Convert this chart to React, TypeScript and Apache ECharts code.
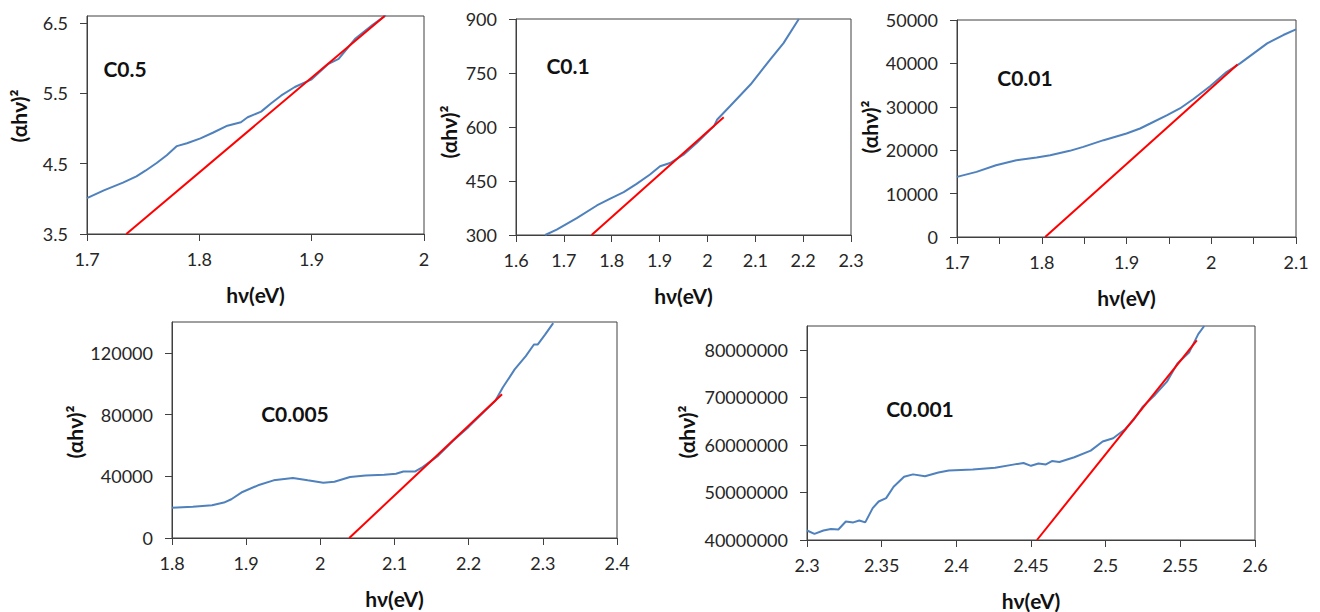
import React, { useEffect, useRef } from "react";
import * as echarts from "echarts";

// ---------- Data ----------
// Panel C0.5
const c05X = [1.7, 1.715, 1.732, 1.744, 1.752, 1.762, 1.771, 1.78, 1.789, 1.801, 1.812, 1.825, 1.837, 1.843, 1.855, 1.864, 1.873, 1.885, 1.9, 1.915, 1.924, 1.939, 1.954, 1.966];
const c05Y = [4.01, 4.12, 4.23, 4.32, 4.4, 4.51, 4.62, 4.75, 4.79, 4.86, 4.94, 5.04, 5.09, 5.16, 5.24, 5.36, 5.47, 5.59, 5.7, 5.92, 5.99, 6.28, 6.47, 6.61];
const c05FitX = [1.735, 1.965];
const c05FitY = [3.5, 6.6];

// Panel C0.1
const c01X = [1.661, 1.685, 1.727, 1.769, 1.797, 1.825, 1.852, 1.88, 1.901, 1.922, 1.95, 1.978, 2.006, 2.014, 2.02, 2.048, 2.09, 2.131, 2.159, 2.191];
const c01Y = [300, 315, 347, 382, 401, 419, 442, 468, 491, 500, 523, 556, 593, 603, 620, 659, 718, 787, 833, 900];
const c01FitX = [1.758, 2.034];
const c01FitY = [300, 627];

// Panel C0.01
const c001X = [1.7, 1.723, 1.746, 1.77, 1.794, 1.81, 1.833, 1.849, 1.873, 1.9, 1.916, 1.928, 1.948, 1.963, 1.979, 1.999, 2.018, 2.034, 2.05, 2.066, 2.085, 2.1];
const c001Y = [13850, 15000, 16540, 17690, 18310, 18850, 19850, 20770, 22310, 23850, 25000, 26150, 28080, 29620, 31800, 34800, 38000, 40000, 42310, 44620, 46540, 47850];
const c001FitX = [1.804, 2.031];
const c001FitY = [0, 39770];

// Panel C0.005
const c0005X = [1.8, 1.828, 1.854, 1.87, 1.88, 1.895, 1.916, 1.937, 1.963, 1.983, 2.004, 2.019, 2.04, 2.061, 2.086, 2.102, 2.112, 2.128, 2.138, 2.159, 2.179, 2.2, 2.221, 2.236, 2.246, 2.262, 2.277, 2.288, 2.293, 2.303, 2.314];
const c0005Y = [19540, 20180, 21250, 22970, 25120, 29840, 34140, 37360, 38860, 37360, 35850, 36500, 39500, 40580, 41000, 41650, 43150, 43150, 45950, 53400, 63000, 72000, 82000, 88900, 97500, 109300, 117900, 125400, 125400, 131800, 139300];
const c0005FitX = [2.039, 2.245];
const c0005FitY = [0, 93180];

// Panel C0.001
const c0001X = [2.3, 2.305, 2.311, 2.316, 2.321, 2.326, 2.331, 2.335, 2.339, 2.344, 2.348, 2.353, 2.358, 2.365, 2.371, 2.379, 2.388, 2.395, 2.411, 2.426, 2.439, 2.445, 2.45, 2.455, 2.46, 2.464, 2.469, 2.479, 2.49, 2.498, 2.505, 2.513, 2.519, 2.525, 2.533, 2.541, 2.548, 2.556, 2.562, 2.566];
const c0001Y = [42000000, 41300000, 42000000, 42300000, 42200000, 43900000, 43700000, 44100000, 43700000, 46700000, 48100000, 48800000, 51200000, 53300000, 53800000, 53400000, 54200000, 54600000, 54800000, 55200000, 55900000, 56200000, 55600000, 56100000, 55900000, 56600000, 56400000, 57400000, 58800000, 60700000, 61400000, 63300000, 65400000, 68100000, 70500000, 73300000, 77100000, 79500000, 83300000, 85000000];
const c0001FitX = [2.454, 2.561];
const c0001FitY = [40000000, 82000000];

// Tick labels
const xTicks1 = [1.7, 1.8, 1.9, 2];
const xTicks2 = [1.6, 1.7, 1.8, 1.9, 2, 2.1, 2.2, 2.3];
const xLabels3 = [1.7, 1.8, 1.9, 2, 2.1];
const xTicks3 = [1.7, 1.75, 1.8, 1.85, 1.9, 1.95, 2, 2.05, 2.1];
const xTicks4 = [1.8, 1.9, 2, 2.1, 2.2, 2.3, 2.4];
const xTicks5 = [2.3, 2.35, 2.4, 2.45, 2.5, 2.55, 2.6];
const yTicks1 = [3.5, 4.5, 5.5, 6.5];
const yTicks2 = [300, 450, 600, 750, 900];
const yTicks3 = [0, 10000, 20000, 30000, 40000, 50000];
const yTicks4 = [0, 40000, 80000, 120000];
const yTicks5 = [40000000, 50000000, 60000000, 70000000, 80000000];

const panelNames = ["C0.5", "C0.1", "C0.01", "C0.005", "C0.001"];
const xTitle = "hν(eV)";
const yTitle = "(αhν)²";

const zip = (xs: number[], ys: number[]) => xs.map((x, i) => [x, ys[i]]);

const FONT = 'Lato, "Open Sans", "Noto Sans", sans-serif';
const AXIS_COLOR = "#404040";
const LABEL_COLOR = "#262626";
const BLUE = "#4F81BD";
const RED = "#FF0000";

type PanelSpec = {
  grid: { left: number; top: number; width: number; height: number };
  xMin: number; xMax: number; xTicks: number[]; xLabels: number[];
  yMin: number; yMax: number; yTicks: number[]; yFmt: (v: number) => string;
  curveX: number[]; curveY: number[]; fitX: number[]; fitY: number[];
  label: { x: number; y: number };
  yTitlePos: { x: number; y: number };
};

const panels: PanelSpec[] = [
  {
    grid: { left: 87, top: 16, width: 337, height: 218 },
    xMin: 1.7, xMax: 2, xTicks: xTicks1, xLabels: xTicks1,
    yMin: 3.5, yMax: 6.6, yTicks: yTicks1, yFmt: (v) => v.toFixed(1),
    curveX: c05X, curveY: c05Y, fitX: c05FitX, fitY: c05FitY,
    label: { x: 125, y: 68 }, yTitlePos: { x: 18, y: 116 },
  },
  {
    grid: { left: 516, top: 19, width: 335, height: 216 },
    xMin: 1.6, xMax: 2.3, xTicks: xTicks2, xLabels: xTicks2,
    yMin: 300, yMax: 900, yTicks: yTicks2, yFmt: (v) => String(v),
    curveX: c01X, curveY: c01Y, fitX: c01FitX, fitY: c01FitY,
    label: { x: 568, y: 65 }, yTitlePos: { x: 448, y: 132 },
  },
  {
    grid: { left: 957, top: 20, width: 339, height: 217 },
    xMin: 1.7, xMax: 2.1, xTicks: xTicks3, xLabels: xLabels3,
    yMin: 0, yMax: 50000, yTicks: yTicks3, yFmt: (v) => String(v),
    curveX: c001X, curveY: c001Y, fitX: c001FitX, fitY: c001FitY,
    label: { x: 1025, y: 77 }, yTitlePos: { x: 869, y: 127 },
  },
  {
    grid: { left: 172, top: 322, width: 445, height: 216 },
    xMin: 1.8, xMax: 2.4, xTicks: xTicks4, xLabels: xTicks4,
    yMin: 0, yMax: 140000, yTicks: yTicks4, yFmt: (v) => String(v),
    curveX: c0005X, curveY: c0005Y, fitX: c0005FitX, fitY: c0005FitY,
    label: { x: 295, y: 413 }, yTitlePos: { x: 74, y: 432 },
  },
  {
    grid: { left: 807, top: 326, width: 448, height: 216 },
    xMin: 2.3, xMax: 2.6, xTicks: xTicks5, xLabels: xTicks5,
    yMin: 40000000, yMax: 85000000, yTicks: yTicks5, yFmt: (v) => String(v),
    curveX: c0001X, curveY: c0001Y, fitX: c0001FitX, fitY: c0001FitY,
    label: { x: 920, y: 408 }, yTitlePos: { x: 686, y: 432 },
  },
];

function buildOption() {
  const grid = panels.map((p) => ({
    ...p.grid,
    show: true,
    borderColor: AXIS_COLOR,
    borderWidth: 1,
    backgroundColor: "transparent",
    containLabel: false,
  }));

  const xAxis = panels.map((p, i) => ({
    type: "value",
    gridIndex: i,
    min: p.xMin,
    max: p.xMax,
    name: xTitle,
    nameLocation: "middle",
    nameGap: 50,
    nameTextStyle: { fontFamily: FONT, fontWeight: "bold", fontSize: 21, color: "#111" },
    axisLine: { show: true, onZero: false, lineStyle: { color: AXIS_COLOR, width: 1 } },
    axisTick: { show: true, inside: false, length: 7, customValues: p.xTicks, lineStyle: { color: AXIS_COLOR } },
    axisLabel: {
      customValues: p.xLabels,
      formatter: (v: number) => String(v),
      fontFamily: FONT,
      fontSize: 18,
      color: LABEL_COLOR,
      margin: 16,
    },
    splitLine: { show: false },
  }));

  const yAxis = panels.map((p, i) => ({
    type: "value",
    gridIndex: i,
    min: p.yMin,
    max: p.yMax,
    axisLine: { show: true, onZero: false, lineStyle: { color: AXIS_COLOR, width: 1 } },
    axisTick: { show: true, inside: false, length: 7, customValues: p.yTicks, lineStyle: { color: AXIS_COLOR } },
    axisLabel: {
      customValues: p.yTicks,
      formatter: p.yFmt,
      fontFamily: FONT,
      fontSize: 18,
      color: LABEL_COLOR,
      margin: 19,
    },
    splitLine: { show: false },
  }));

  const series: any[] = [];
  panels.forEach((p, i) => {
    series.push({
      type: "line",
      name: panelNames[i],
      xAxisIndex: i,
      yAxisIndex: i,
      data: zip(p.curveX, p.curveY),
      showSymbol: false,
      symbol: "none",
      lineStyle: { color: BLUE, width: 2 },
      clip: true,
      z: 2,
    });
    series.push({
      type: "line",
      name: panelNames[i] + " fit",
      xAxisIndex: i,
      yAxisIndex: i,
      data: zip(p.fitX, p.fitY),
      showSymbol: false,
      symbol: "none",
      lineStyle: { color: RED, width: 2 },
      clip: true,
      z: 3,
    });
  });

  const graphic: any[] = [];
  panels.forEach((p, i) => {
    graphic.push({
      type: "text",
      x: p.label.x,
      y: p.label.y,
      style: {
        text: panelNames[i],
        font: `bold 21px ${FONT}`,
        fill: "#111",
        align: "center",
        verticalAlign: "middle",
      },
    });
    graphic.push({
      type: "text",
      x: p.yTitlePos.x,
      y: p.yTitlePos.y,
      rotation: Math.PI / 2,
      style: {
        text: yTitle,
        font: `bold 21px ${FONT}`,
        fill: "#111",
        align: "center",
        verticalAlign: "middle",
      },
    });
  });

  return {
    animation: false,
    backgroundColor: "#ffffff",
    grid,
    xAxis,
    yAxis,
    series,
    graphic,
  };
}

export default function App() {
  const ref = useRef<HTMLDivElement>(null);
  useEffect(() => {
    if (!ref.current) return;
    const chart = echarts.init(ref.current, undefined, { renderer: "svg" });
    chart.setOption(buildOption() as any);
    return () => chart.dispose();
  }, []);
  return (
    <div
      ref={ref}
      style={{ position: "absolute", left: 0, top: 0, width: 1320, height: 612, background: "#fff" }}
    />
  );
}
